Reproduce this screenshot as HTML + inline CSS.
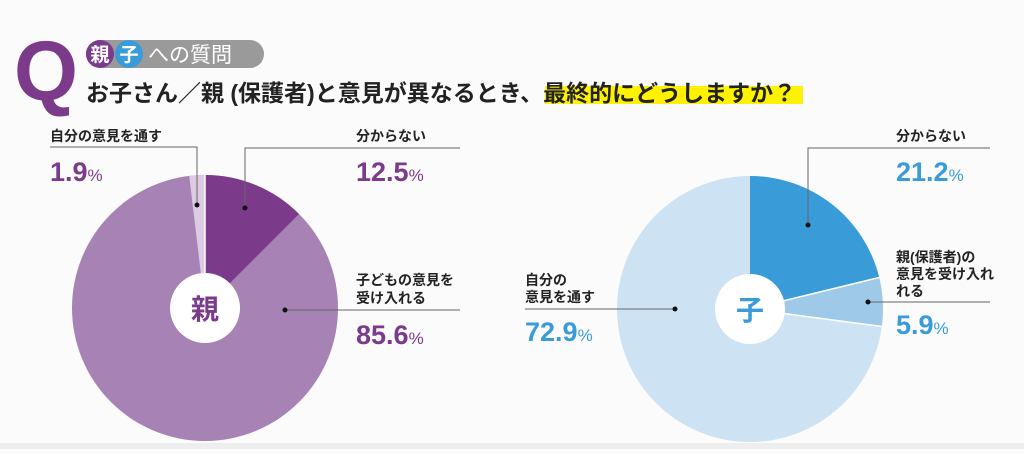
<!DOCTYPE html>
<html><head><meta charset="utf-8"><style>
body{margin:0;width:1024px;height:449px;background:#fbfbfb;overflow:hidden;font-family:"Liberation Sans","Noto Sans CJK JP",sans-serif;}
svg text{font-family:"Liberation Sans","Noto Sans CJK JP",sans-serif;}
</style></head><body>
<svg width="1024" height="449" viewBox="0 0 1024 449">
<rect x="0" y="443" width="1024" height="6" fill="#eeeeee"/>
<text x="14" y="100" font-size="84" font-weight="bold" fill="#7b3a8a" textLength="64" lengthAdjust="spacingAndGlyphs">Q</text>
<rect x="86" y="40" width="178" height="28" rx="14" fill="#9a9a9a"/>
<circle cx="100" cy="54" r="14" fill="#7b3a8a"/>
<circle cx="129" cy="54" r="14" fill="#3a9bd9"/>
<text x="100" y="61" font-size="19" font-weight="bold" fill="#fff" text-anchor="middle">親</text>
<text x="129" y="61" font-size="19" font-weight="bold" fill="#fff" text-anchor="middle">子</text>
<text x="148" y="62" font-size="21" fill="#fff">への質問</text>
<rect x="545" y="86" width="258" height="18" fill="#fff200"/>
<text x="86" y="101" font-size="23" font-weight="bold" fill="#222">お子さん／親 (保護者)と意見が異なるとき、最終的にどうしますか？</text>
<!-- left pie -->
<circle cx="205" cy="308" r="133" fill="#a682b5"/>
<path d="M205 308 L205 175 A133 133 0 0 1 299 214 Z" fill="#7b3a8a"/>
<path d="M205 308 L189.2 175.9 A133 133 0 0 1 205 175 Z" fill="#dccbe3"/>
<line x1="205" y1="308" x2="205" y2="175" stroke="#fff" stroke-width="1.5"/>
<circle cx="205" cy="308" r="35" fill="#fff"/>
<text x="205" y="319" font-size="28" font-weight="bold" fill="#7b3a8a" text-anchor="middle">親</text>
<!-- right pie -->
<circle cx="750" cy="309" r="133" fill="#cde3f3"/>
<path d="M750 309 L750 176 A133 133 0 0 1 879.2 277.5 Z" fill="#3a9bd9"/>
<path d="M750 309 L879.2 277.5 A133 133 0 0 1 881.8 326.5 Z" fill="#9fc9e8"/>
<path d="M750 309 L879.2 277.5 M750 309 L881.8 326.5" stroke="#fff" stroke-width="1.5"/>
<circle cx="750" cy="309" r="35" fill="#fff"/>
<text x="750" y="320" font-size="28" font-weight="bold" fill="#3a9bd9" text-anchor="middle">子</text>
<!-- leader lines -->
<g stroke="#666" stroke-width="1" fill="none">
<path d="M50 147 H197 V205"/>
<path d="M460 148 H245 V208"/>
<path d="M460 310 H285"/>
<path d="M990 148 H808 V225"/>
<path d="M990 302 H868"/>
<path d="M525 309 H675"/>
</g>
<g fill="#111"><circle cx="197" cy="205" r="2.5"/><circle cx="245" cy="208" r="2.5"/><circle cx="285" cy="310" r="2.5"/><circle cx="808" cy="225" r="2.5"/><circle cx="868" cy="302" r="2.5"/><circle cx="675" cy="309" r="2.5"/></g>
<g font-size="14" font-weight="bold" fill="#222">
<text x="50" y="141">自分の意見を通す</text>
<text x="356" y="141">分からない</text>
<text x="356" y="285">子どもの意見を</text>
<text x="356" y="303">受け入れる</text>
<text x="896" y="141">分からない</text>
<text x="896" y="262">親(保護者)の</text>
<text x="896" y="279">意見を受け入れ</text>
<text x="896" y="296">れる</text>
<text x="525" y="285">自分の</text>
<text x="525" y="302">意見を通す</text>
</g>
<g font-size="27" font-weight="bold">
<text x="50" y="181" fill="#7b3a8a">1.9<tspan font-size="17" font-weight="normal">%</tspan></text>
<text x="356" y="181" fill="#7b3a8a">12.5<tspan font-size="17" font-weight="normal">%</tspan></text>
<text x="356" y="344" fill="#7b3a8a">85.6<tspan font-size="17" font-weight="normal">%</tspan></text>
<text x="896" y="181" fill="#3a9bd9">21.2<tspan font-size="17" font-weight="normal">%</tspan></text>
<text x="896" y="334" fill="#3a9bd9">5.9<tspan font-size="17" font-weight="normal">%</tspan></text>
<text x="525" y="341" fill="#3a9bd9">72.9<tspan font-size="17" font-weight="normal">%</tspan></text>
</g>
</svg>
</body></html>
